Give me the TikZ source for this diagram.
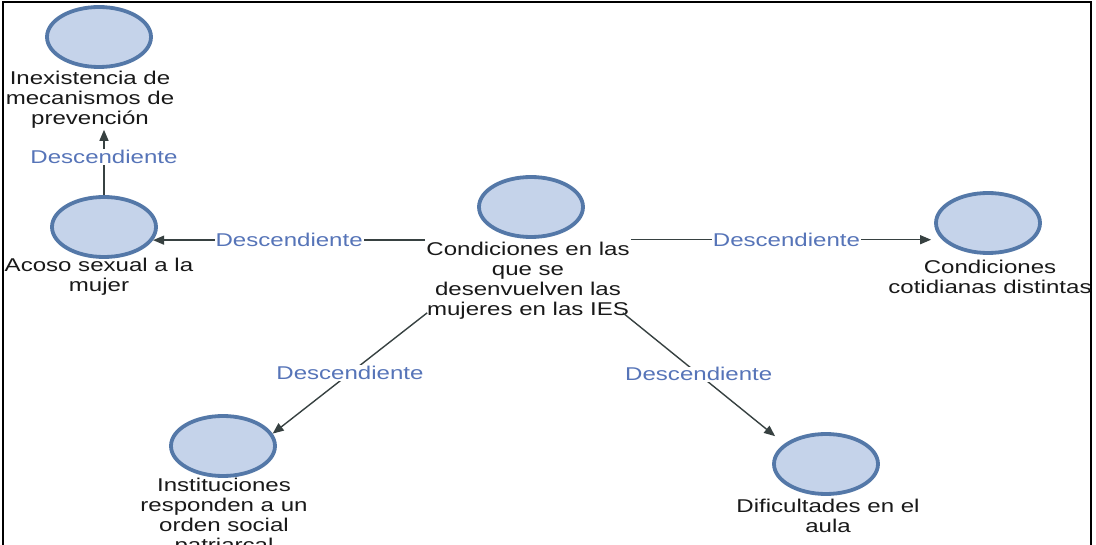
\documentclass[tikz,border=0pt]{standalone}
\usepackage{fontspec}
\setmainfont[FakeStretch=1.3]{Liberation Sans}
\usetikzlibrary{shapes.geometric,arrows.meta,calc}
\definecolor{circfill}{RGB}{197,211,234}
\definecolor{circdraw}{RGB}{84,120,168}
\definecolor{lblblue}{RGB}{86,116,184}
\definecolor{linegray}{RGB}{55,65,65}
\definecolor{txtcol}{RGB}{25,25,25}
\begin{document}
\begin{tikzpicture}[x=1pt,y=-1pt,
  circ/.style={ellipse, draw=circdraw, line width=3.8pt, fill=circfill,
    minimum width=104pt, minimum height=60pt, inner sep=0pt},
  txt/.style={align=center, font=\fontsize{18.5}{20}\selectfont, text=txtcol, inner sep=1pt},
  lbl/.style={font=\fontsize{18.5}{20}\selectfont, text=lblblue, fill=white, inner sep=1pt},
  arr/.style={draw=linegray, line width=1.4pt, -{Triangle[length=11pt,width=9pt]}}]
\useasboundingbox (0,0) rectangle (1096,545);
\fill[white] (0,0) rectangle (1096,545);
\draw[line width=2pt] (3,546) -- (3,2) -- (1091,2) -- (1091,546);

\node[circ] (c1) at (99,37) {};
\node[txt] (t1) at (90,100) {Inexistencia de\\mecanismos de\\prevención};
\node[circ] (c2) at (104,227) {};
\node[txt] (t2) at (99,277) {Acoso sexual a la\\mujer};
\node[circ] (c0) at (531,207) {};
\node[txt] (t0) at (528,281) {Condiciones en las\\que se\\desenvuelven las\\mujeres en las IES};
\node[circ] (c3) at (988,223) {};
\node[txt] (t3) at (990,277) {Condiciones\\cotidianas distintas};
\node[circ] (c4) at (223,446) {};
\node[txt] (t4) at (224,517) {Instituciones\\responden a un\\orden social\\patriarcal};
\node[circ] (c5) at (826,464) {};
\node[txt] (t5) at (828,516) {Dificultades en el\\aula};

\draw[arr] (c2.north) -- node[lbl,pos=0.58]{Descendiente} (c2.north |- t1.south);
\draw[arr] (t0.west |- c2.-15) -- node[lbl]{Descendiente} (c2.-15);
\draw[arr, shorten >=11pt] (t0.east |- c3.200) -- node[lbl]{Descendiente} (c3.200);
\draw[arr] ($(t0.south west)+(2,-8)$) -- node[lbl]{Descendiente} (c4.14);
\draw[arr, shorten >=12pt] ($(t0.south east)+(-8,-8)$) -- node[lbl,pos=0.47]{Descendiente} (c5.154);
\end{tikzpicture}
\end{document}
